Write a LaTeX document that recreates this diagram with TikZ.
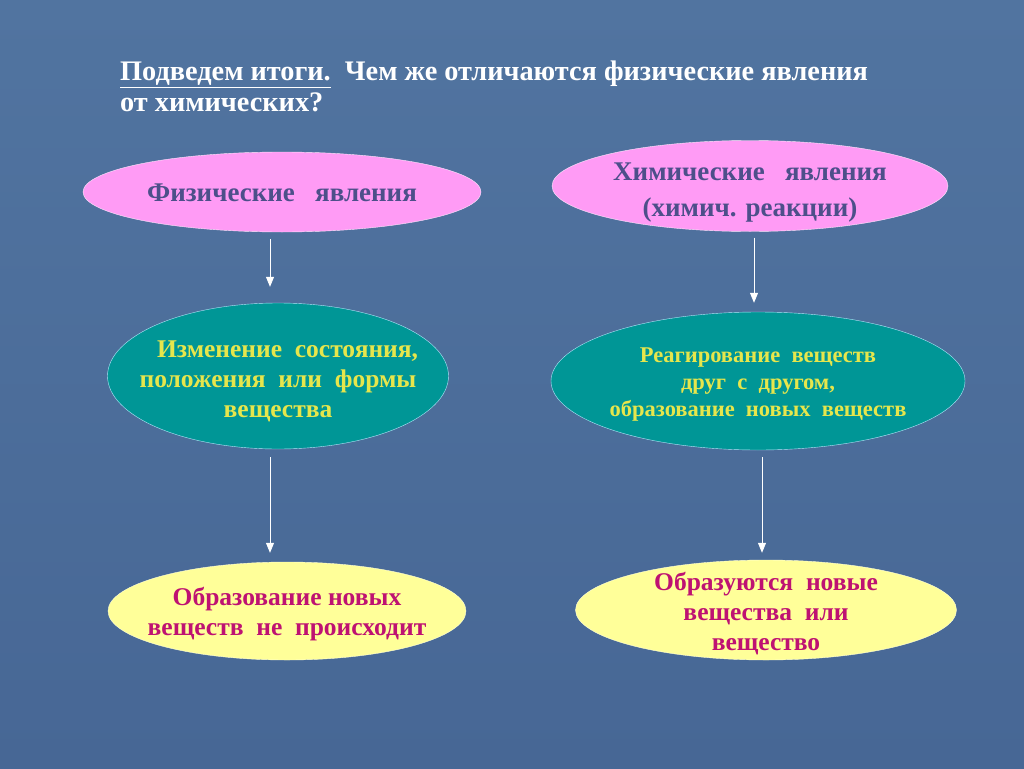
\documentclass[tikz,border=0pt]{standalone}
\usepackage{fontspec}
\setmainfont{Liberation Serif}
\usepackage{xcolor}
\usetikzlibrary{shapes.geometric, arrows.meta, positioning}
\definecolor{slidetop}{HTML}{5174A0}
\definecolor{slidebottom}{HTML}{476795}
\definecolor{pinkfill}{HTML}{FF9BF5}
\definecolor{pinktext}{HTML}{4D4F8A}
\definecolor{tealfill}{HTML}{009696}
\definecolor{yellowtext}{HTML}{E6E64C}
\definecolor{paleyellow}{HTML}{FFFF99}
\definecolor{redtext}{HTML}{BE1272}
\newcommand{\bigfont}{\fontsize{27}{36}\selectfont\bfseries}
\newcommand{\midfont}{\fontsize{25.5}{30}\selectfont\bfseries}
\newcommand{\smallfont}{\fontsize{22.5}{27}\selectfont\bfseries}

\begin{document}
\begin{tikzpicture}[x=1pt, y=-1pt]

	\tikzstyle{phen}=[ellipse, draw=white!75!pinkfill, thin, fill=pinkfill, inner sep=0pt]
	\tikzstyle{meaning}=[ellipse, draw=cyan!30!white, thin, fill=tealfill, inner sep=0pt]
	\tikzstyle{result}=[ellipse, draw=white!60!paleyellow, thin, fill=paleyellow, inner sep=0pt]
	\tikzstyle{phentext}=[text=pinktext, align=center, font=\bigfont]
	\tikzstyle{meaningtext}=[text=yellowtext, align=center]
	\tikzstyle{resulttext}=[text=redtext, align=center, font=\midfont]
	\tikzstyle{down}=[-{Triangle[width=8pt, length=10pt]}, white, thick]

	% background of the slide
	\shade[top color=slidetop, bottom color=slidebottom] (0,0) rectangle (1024,768);
	\useasboundingbox (0,0) rectangle (1024,768);

	% title
	\node (title) [anchor=north west, align=left, text=white, font=\fontsize{28.3}{31}\selectfont\bfseries, inner sep=0pt] at (120,61) {\underline{Подведем итоги.}\ \ Чем же отличаются физические явления\\от химических?};

	% top row
	\node (phys) at (282,192) [phen, minimum width=398, minimum height=80] {};
	\node (phystext) at ([yshift=-1pt]phys) [phentext] {Физические\ \ \ явления};
	\node (chem) at (750,186) [phen, minimum width=396, minimum height=91] {};
	\node (chemtext) at ([yshift=-7pt]chem) [phentext] {Химические\ \ \ явления\\(химич. реакции)};

	% middle row
	\node (physmid) at (278,376) [meaning, minimum width=341, minimum height=146] {};
	\node (physmidtext) at ([yshift=-5pt]physmid) [meaningtext, font=\midfont] {\ \ \ Изменение\ \ состояния,\\положения\ \ или\ \ формы\\вещества};
	\node (chemmid) at (758,381) [meaning, minimum width=414, minimum height=138] {};
	\node (chemmidtext) at ([yshift=-4pt]chemmid) [meaningtext, font=\smallfont] {Реагирование\ \ веществ\\друг\ \ с\ \ другом,\\образование\ \ новых\ \ веществ};

	% bottom row
	\node (physres) at (287,611) [result, minimum width=358, minimum height=98] {};
	\node (physrestext) at ([yshift=-3pt]physres) [resulttext] {Образование новых\\веществ\ \ не\ \ происходит};
	\node (chemres) at (766,610) [result, minimum width=381, minimum height=100] {};
	\node (chemrestext) at ([yshift=-4pt]chemres) [resulttext] {Образуются\ \ новые\\вещества\ \ или\\вещество};

	% arrows
	\draw [down, shorten <=7pt, shorten >=16pt] ([xshift=-12pt]phys.south) -- ([xshift=-8pt]physmid.north);
	\draw [down, shorten <=6pt, shorten >=9pt] ([xshift=4pt]chem.south) -- ([xshift=-4pt]chemmid.north);
	\draw [down, shorten <=8pt, shorten >=9pt] ([xshift=-8pt]physmid.south) -- ([xshift=-17pt]physres.north);
	\draw [down, shorten <=7pt, shorten >=7pt] ([xshift=4pt]chemmid.south) -- ([xshift=-4pt]chemres.north);
\end{tikzpicture}
\end{document}
